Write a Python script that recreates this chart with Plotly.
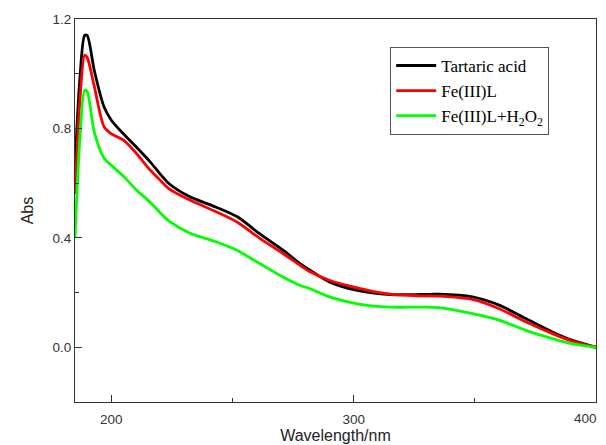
import plotly.graph_objects as go

wavelength = [185, 187, 189, 190, 193, 197, 200, 205, 210, 216, 220, 224, 232, 243, 252,
              261, 271, 278, 282, 290, 301, 315, 328, 335, 349, 360, 371, 382, 390, 400]

tartaric = [0.66, 0.98, 1.14, 1.14, 1.01, 0.878, 0.83, 0.78, 0.735, 0.678, 0.635, 0.597, 0.552, 0.513, 0.477,
            0.416, 0.354, 0.305, 0.282, 0.239, 0.209, 0.193, 0.193, 0.194, 0.184, 0.154, 0.105, 0.056, 0.026, 0.0]

fe_l = [0.56, 0.90, 1.068, 1.06, 0.952, 0.806, 0.78, 0.757, 0.712, 0.648, 0.612, 0.578, 0.54, 0.496, 0.457,
        0.400, 0.342, 0.299, 0.276, 0.245, 0.218, 0.194, 0.188, 0.187, 0.175, 0.141, 0.093, 0.050, 0.023, 0.0]

fe_l_h2o2 = [0.40, 0.76, 0.94, 0.935, 0.785, 0.692, 0.665, 0.625, 0.578, 0.530, 0.493, 0.460, 0.419, 0.386, 0.354,
             0.307, 0.256, 0.226, 0.214, 0.184, 0.160, 0.147, 0.147, 0.145, 0.123, 0.099, 0.062, 0.032, 0.013, 0.0]

names = ["Tartaric acid", "Fe(III)L", "Fe(III)L+H<sub>2</sub>O<sub>2</sub>"]
colors = ["#000000", "#ff0000", "#00ff00"]
series = [tartaric, fe_l, fe_l_h2o2]

x_ticks = [200, 300, 400]
y_ticks = [0.0, 0.4, 0.8, 1.2]

tick_font = dict(family="Liberation Sans, Arial", size=13.5, color="#333333")

fig = go.Figure()
for name, col, vals in zip(names, colors, series):
    fig.add_trace(go.Scatter(x=wavelength, y=vals, mode="lines", name=name,
                             line=dict(color=col, width=2.8, shape="spline", smoothing=0.8)))

axis_common = dict(showline=True, linecolor="#333333", linewidth=1.2, mirror=True,
                   ticks="inside", ticklen=7, tickwidth=1, tickcolor="#333333",
                   showgrid=False, zeroline=False, automargin=False,
                   ticklabeloverflow="allow", tickfont=tick_font)

# last x tick label is drawn as an annotation so that it stays inside the page edge
x_tick_text = [str(v) for v in x_ticks[:-1]] + [""]

fig.update_xaxes(range=[185, 400], tickvals=x_ticks, ticktext=x_tick_text,
                 ticklabelstandoff=5,
                 minor=dict(ticks="inside", dtick=50, tick0=200, ticklen=4, tickcolor="#333333"),
                 title=dict(text="Wavelength/nm", standoff=0,
                            font=dict(family="Liberation Sans, Arial", size=16, color="#222222")),
                 **axis_common)
fig.update_yaxes(range=[-0.2, 1.2], tickvals=y_ticks, ticktext=["%.1f" % v for v in y_ticks],
                 minor=dict(ticks="inside", dtick=0.2, tick0=0, ticklen=4, tickcolor="#333333"),
                 title=dict(text="Abs", standoff=14,
                            font=dict(family="Liberation Sans, Arial", size=16, color="#222222")),
                 **axis_common)

fig.add_annotation(x=x_ticks[-1], xref="x", y=0, yref="paper", text=str(x_ticks[-1]),
                   showarrow=False, xanchor="right", yanchor="top", xshift=3, yshift=-7,
                   font=tick_font)

fig.update_layout(
    width=598, height=437,
    margin=dict(l=67, r=10, t=11, b=43, autoexpand=False),
    paper_bgcolor="white", plot_bgcolor="white",
    showlegend=True,
    legend=dict(x=0.605, y=0.927, xanchor="left", yanchor="top",
                bgcolor="white", bordercolor="#555555", borderwidth=1,
                font=dict(family="Liberation Serif, Times New Roman", size=17, color="#000000"),
                tracegroupgap=0, itemwidth=40),
)

fig.write_html("out.html")
